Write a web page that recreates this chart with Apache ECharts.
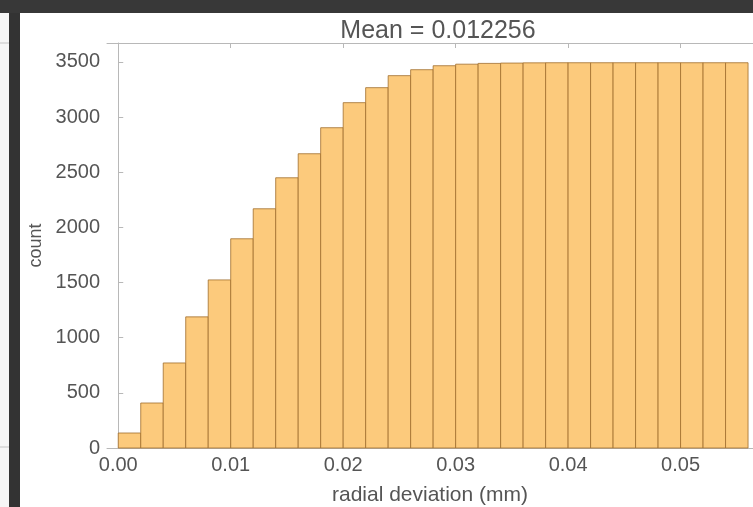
<!DOCTYPE html>
<html>
<head>
<meta charset="utf-8">
<script src="https://cdn.jsdelivr.net/npm/echarts@6/dist/echarts.min.js"></script>
<style>
  html, body { margin: 0; padding: 0; background: #fff; }
  #chart { width: 753px; height: 507px; }
</style>
</head>
<body>
<div id="chart"></div>
<script>
// histogram bins (left edge, mm) and counts
const binWidth = 0.002;
const binStarts = [0, 0.002, 0.004, 0.006, 0.008, 0.010, 0.012, 0.014, 0.016, 0.018,
  0.020, 0.022, 0.024, 0.026, 0.028, 0.030, 0.032, 0.034, 0.036, 0.038,
  0.040, 0.042, 0.044, 0.046, 0.048, 0.050, 0.052, 0.054];
const counts = [136, 408, 771, 1189, 1524, 1897, 2169, 2450, 2668, 2904,
  3131, 3267, 3376, 3430, 3466, 3480, 3487, 3490, 3492, 3493,
  3493, 3493, 3493, 3493, 3493, 3493, 3493, 3493];
const xTicks = [0, 0.01, 0.02, 0.03, 0.04, 0.05];
const yTicks = [0, 500, 1000, 1500, 2000, 2500, 3000, 3500];

const chart = echarts.init(document.getElementById('chart'));

const textColor = '#555';
const frameColor = '#b8b8b8';
const font = 'Liberation Sans';

const data = binStarts.map((s, i) => [s, counts[i]]);

chart.setOption({
  animation: false,
  backgroundColor: '#fff',
  title: {
    text: 'Mean = 0.012256',
    left: 433,
    top: 14,
    textAlign: 'center',
    textStyle: { color: textColor, fontFamily: font, fontSize: 25, fontWeight: 'normal' },
  },
  grid: { left: 107, right: 0, top: 43, bottom: 59, outerBoundsMode: 'none' },
  xAxis: [
    {
      type: 'value',
      min: -0.001,
      max: 0.05644,
      name: 'radial deviation (mm)',
      nameLocation: 'middle',
      nameGap: 37,
      nameTextStyle: { color: textColor, fontFamily: font, fontSize: 21 },
      axisLine: { show: true, lineStyle: { color: frameColor } },
      axisTick: { show: true, inside: true, length: 5, customValues: xTicks, lineStyle: { color: frameColor } },
      axisLabel: {
        customValues: xTicks,
        color: textColor, fontFamily: font, fontSize: 20, margin: 7,
        formatter: v => v.toFixed(2),
      },
      splitLine: { show: false },
    },
    {
      type: 'value',
      position: 'top',
      min: -0.001,
      max: 0.05644,
      axisLine: { show: true, lineStyle: { color: frameColor } },
      axisTick: { show: true, inside: true, length: 5, customValues: xTicks, lineStyle: { color: frameColor } },
      axisLabel: { show: false },
      splitLine: { show: false },
    },
  ],
  yAxis: {
    type: 'value',
    min: 0,
    max: 3672,
    name: 'count',
    nameLocation: 'middle',
    nameGap: 58,
    nameRotate: 90,
    nameTextStyle: { color: textColor, fontFamily: font, fontSize: 18 },
    axisLine: { show: true, lineStyle: { color: frameColor } },
    axisTick: { show: true, inside: true, length: 5, customValues: yTicks, lineStyle: { color: frameColor } },
    axisLabel: {
      customValues: yTicks,
      color: textColor, fontFamily: font, fontSize: 20, margin: 7,
      formatter: v => String(v),
    },
    splitLine: { show: false },
  },
  series: [
    {
      type: 'custom',
      xAxisIndex: 0,
      yAxisIndex: 0,
      encode: { x: 0, y: 1 },
      data: data,
      renderItem: (params, api) => {
        const x0 = api.value(0);
        const y = api.value(1);
        const p0 = api.coord([x0, y]);
        const p1 = api.coord([x0 + binWidth, 0]);
        return {
          type: 'rect',
          shape: { x: p0[0], y: p0[1], width: p1[0] - p0[0], height: p1[1] - p0[1] },
          style: { fill: '#fcca7c', stroke: 'rgba(160,110,45,0.8)', lineWidth: 1 },
        };
      },
    },
  ],
  // screenshot window frame around the plot
  graphic: [
    { type: 'rect', shape: { x: 0, y: 0, width: 753, height: 13 }, style: { fill: '#383838' } },
    { type: 'rect', shape: { x: 0, y: 13, width: 9, height: 494 }, style: { fill: '#f6f6f6' } },
    { type: 'line', shape: { x1: 0, y1: 43, x2: 9, y2: 43 }, style: { stroke: '#c4c4c4', lineWidth: 1 } },
    { type: 'line', shape: { x1: 0, y1: 447, x2: 9, y2: 447 }, style: { stroke: '#c4c4c4', lineWidth: 1 } },
    { type: 'rect', shape: { x: 9, y: 13, width: 11, height: 494 }, style: { fill: '#333' } },
  ],
});
</script>
</body>
</html>
